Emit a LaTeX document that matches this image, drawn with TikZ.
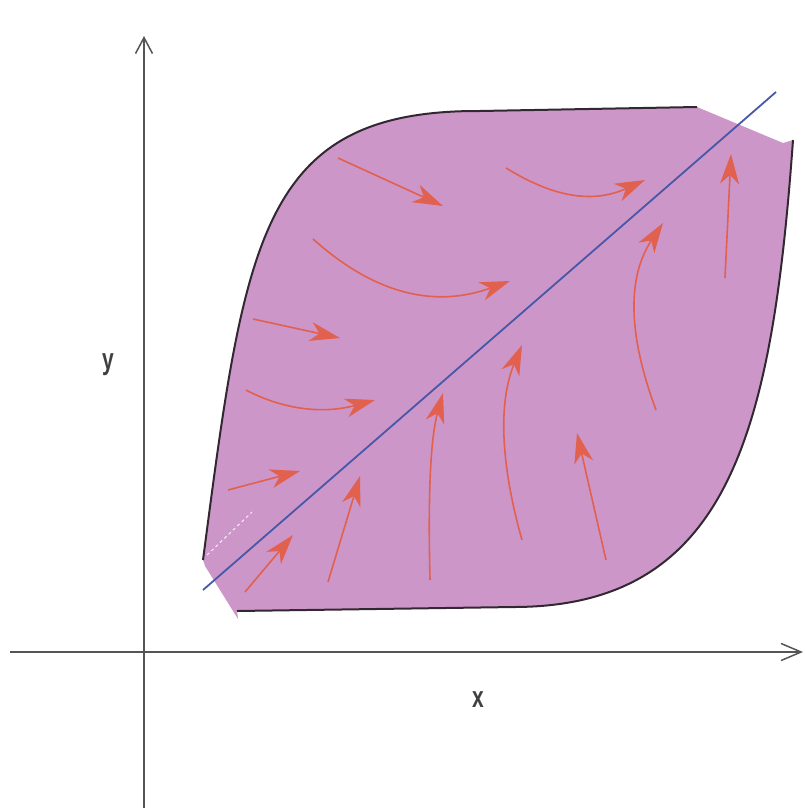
\documentclass[tikz,border=0pt]{standalone}
\usepackage{fontspec}
\setmainfont{Liberation Sans}
\usetikzlibrary{arrows.meta}
\definecolor{regionfill}{RGB}{205,150,200}
\definecolor{bound}{RGB}{50,40,50}
\definecolor{diag}{RGB}{72,88,168}
\definecolor{flow}{RGB}{226,96,78}
\definecolor{axis}{RGB}{85,85,85}
\tikzset{
  boundary/.style={draw=bound, line width=2pt},
  flowarrow/.style={draw=flow, line width=1.6pt, -{Stealth[length=30pt, width=19pt, inset=9pt, fill=flow]}},
  axisline/.style={draw=axis, line width=1.5pt},
  lbl/.style={font=\fontsize{30}{30}\selectfont\bfseries, text=black!75},
}
\begin{document}
\begin{tikzpicture}[x=1pt, y=-1pt]
\useasboundingbox (0,0) rectangle (805,808);
% axes
\draw[axisline, -{Straight Barb[length=16pt, width=17pt, line width=1.5pt]}] (144,808) -- (144,36);
\draw[axisline, -{Straight Barb[length=20pt, width=17pt, line width=1.5pt]}] (10,652) -- (803,652);
\node[lbl] (ylab) at (108,365) {\scalebox{0.7}[1]{y}};
\node[lbl] (xlab) at (478,700) {\scalebox{0.7}[1]{x}};
% region fill
\fill[regionfill] (203,560) .. controls (245,240) and (260,110) .. (480,111) -- (697,107)
  -- (783,143) -- (793,140)
  .. controls (772,430) and (730,606) .. (515,607) -- (237,611)
  -- (238,619) -- (205,566) -- cycle;
% boundaries
\draw[boundary] (203,560) .. controls (245,240) and (260,110) .. (480,111) -- (697,107);
\draw[boundary] (793,140) .. controls (772,430) and (730,606) .. (515,607) -- (237,611);
% faint dashed trace
\draw[white!85!regionfill, line width=1pt, dash pattern=on 3pt off 3pt] (207,555) -- (252,512);
% diagonal
\draw[draw=diag, line width=1.8pt] (203,590) -- (776,92);
% flow arrows
\draw[flowarrow] (338,158) -- (443,206);
\draw[flowarrow] (506,168) .. controls (550,195) and (590,205) .. (645,180);
\draw[flowarrow] (313,239) .. controls (370,290) and (430,310) .. (510,281);
\draw[flowarrow] (253,319) -- (340,338);
\draw[flowarrow] (246,390) .. controls (280,408) and (320,415) .. (375,400);
\draw[flowarrow] (228,490) -- (300,471);
\draw[flowarrow] (245,592) -- (293,535);
\draw[flowarrow] (328,582) -- (360,476);
\draw[flowarrow] (430,580) .. controls (428,500) and (430,440) .. (443,393);
\draw[flowarrow] (522,540) .. controls (505,480) and (495,410) .. (522,345);
\draw[flowarrow] (606,560) -- (577,433);
\draw[flowarrow] (656,410) .. controls (630,340) and (625,280) .. (663,223);
\draw[flowarrow] (725,278) -- (731,154);
\end{tikzpicture}
\end{document}
